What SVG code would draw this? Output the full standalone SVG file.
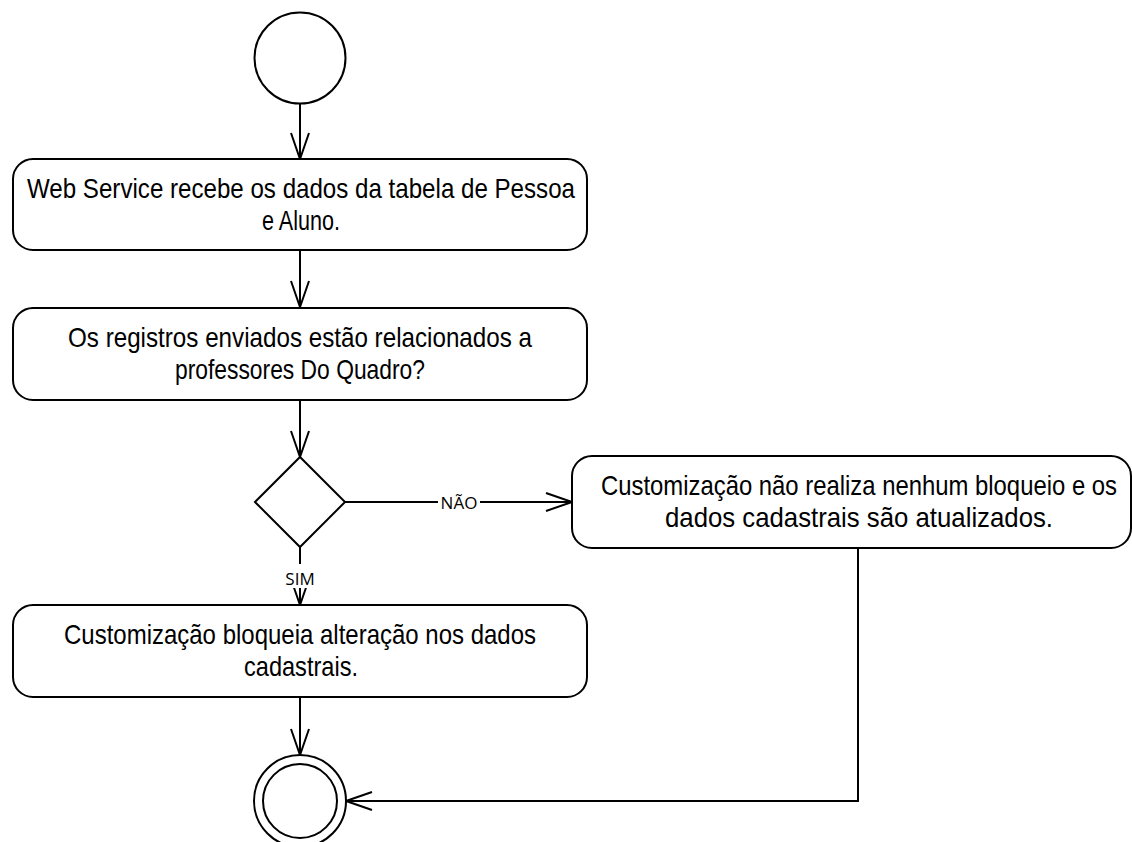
<svg xmlns="http://www.w3.org/2000/svg" width="1132" height="842" viewBox="0 0 1132 842">
<style>
.box{fill:#fff;stroke:#000;stroke-width:2}
.t{font-family:"Liberation Sans Narrow","Liberation Sans",Arial,sans-serif;font-size:28px;fill:#000;text-anchor:middle}
.lbl{font-family:"Open Sans","Noto Sans","DejaVu Sans",sans-serif;font-size:17px;fill:#000;text-anchor:middle}
.c{fill:none;stroke:#000;stroke-width:2}
</style>
<defs>
<marker id="arr" viewBox="0 0 28 20" refX="27" refY="10" markerWidth="28" markerHeight="20" markerUnits="userSpaceOnUse" orient="auto">
<path d="M1,1 L27,10 L1,19" fill="none" stroke="#000" stroke-width="2"/>
</marker>
</defs>
<rect width="1132" height="842" fill="#fff"/>
<g id="connectors">
<line class="c" x1="300" y1="103" x2="300" y2="159" marker-end="url(#arr)"/>
<line class="c" x1="300" y1="250" x2="300" y2="307" marker-end="url(#arr)"/>
<line class="c" x1="300" y1="400" x2="300" y2="457" marker-end="url(#arr)"/>
<line class="c" x1="345" y1="502" x2="572" y2="502" marker-end="url(#arr)"/>
<line class="c" x1="300" y1="547" x2="300" y2="605" marker-end="url(#arr)"/>
<line class="c" x1="300" y1="697" x2="300" y2="755" marker-end="url(#arr)"/>
<polyline class="c" points="858,548 858,801 346,801" marker-end="url(#arr)"/>
<rect x="438" y="492" width="42" height="20" fill="#fff"/>
<text class="lbl" x="459" y="509">NÃO</text>
<rect x="282" y="564" width="38" height="24" fill="#fff"/>
<text class="lbl" x="300" y="585">SIM</text>
</g>
<g id="start">
<circle cx="300" cy="58" r="45.5" fill="#fff" stroke="#000" stroke-width="2"/>
</g>
<g id="a1">
<rect class="box" x="13" y="159" width="574" height="91" rx="20"/>
<text class="t" x="301" y="198" textLength="548" lengthAdjust="spacingAndGlyphs">Web Service recebe os dados da tabela de Pessoa</text>
<text class="t" x="301" y="230" textLength="78" lengthAdjust="spacingAndGlyphs">e Aluno.</text>
</g>
<g id="a2">
<rect class="box" x="13" y="308" width="574" height="92" rx="20"/>
<text class="t" x="300" y="347" textLength="464" lengthAdjust="spacingAndGlyphs">Os registros enviados estão relacionados a</text>
<text class="t" x="300" y="379" textLength="250" lengthAdjust="spacingAndGlyphs">professores Do Quadro?</text>
</g>
<g id="decision">
<polygon points="300,457 345,502 300,547 255,502" fill="#fff" stroke="#000" stroke-width="2"/>
</g>
<g id="a3">
<rect class="box" x="572" y="456" width="559" height="92" rx="20"/>
<text class="t" x="859" y="495" textLength="516" lengthAdjust="spacingAndGlyphs">Customização não realiza nenhum bloqueio e os</text>
<text class="t" x="859" y="527" textLength="388" lengthAdjust="spacingAndGlyphs">dados cadastrais são atualizados.</text>
</g>
<g id="a4">
<rect class="box" x="13" y="605" width="574" height="92" rx="20"/>
<text class="t" x="300" y="644" textLength="472" lengthAdjust="spacingAndGlyphs">Customização bloqueia alteração nos dados</text>
<text class="t" x="301" y="676" textLength="114" lengthAdjust="spacingAndGlyphs">cadastrais.</text>
</g>
<g id="end">
<circle cx="300" cy="801" r="46" fill="#fff" stroke="#000" stroke-width="2"/>
<circle cx="300" cy="801" r="37" fill="#fff" stroke="#000" stroke-width="2"/>
</g>
</svg>
